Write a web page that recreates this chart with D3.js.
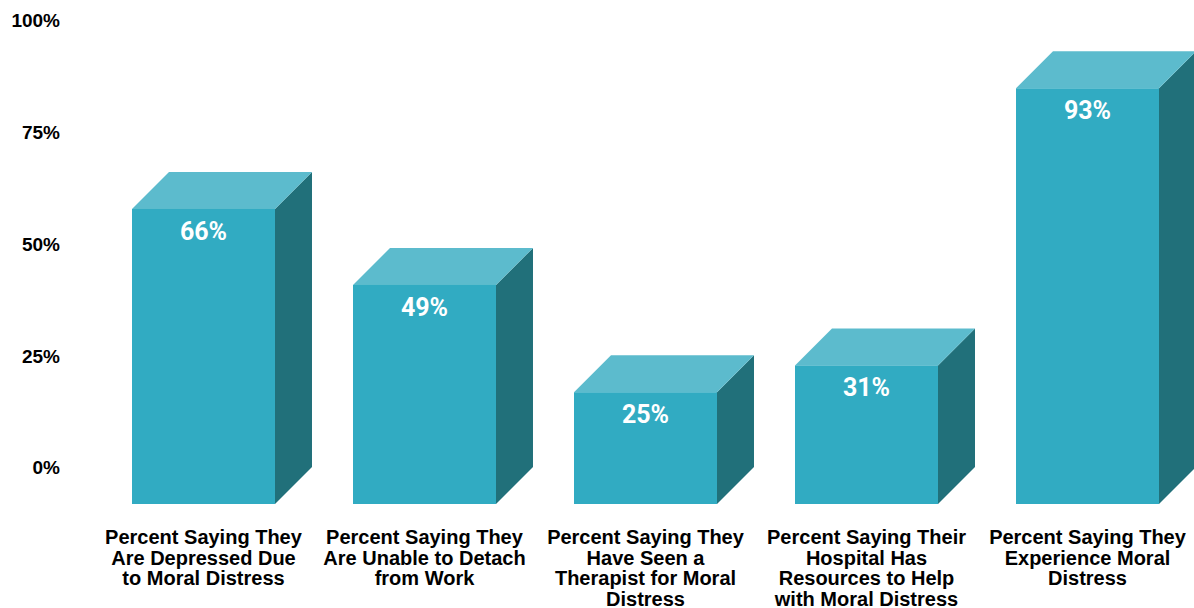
<!DOCTYPE html>
<html>
<head>
<meta charset="utf-8">
<script src="https://cdn.jsdelivr.net/npm/d3@7"></script>
<style>
  body { margin: 0; background: #fff; }
  svg { display: block; }
</style>
</head>
<body>
<div id="chart"></div>
<script>
// data
var categories = [
    "Percent Saying They|Are Depressed Due|to Moral Distress",
    "Percent Saying They|Are Unable to Detach|from Work",
    "Percent Saying They|Have Seen a|Therapist for Moral|Distress",
    "Percent Saying Their|Hospital Has|Resources to Help|with Moral Distress",
    "Percent Saying They|Experience Moral|Distress"
];
var values = [66, 49, 25, 31, 93];
var yTicks = [0, 25, 50, 75, 100];

var width = 1194, height = 608;
var depth = 37; // 3d offset

var svg = d3.select("#chart").append("svg")
    .attr("width", width)
    .attr("height", height);

// Scales (y measures the back plane of the boxes)
var y = d3.scaleLinear().domain([0, 100]).range([467, 20]);
var x = d3.scaleBand().domain(categories).range([132, 1159])
    .paddingInner(0.353).paddingOuter(0);

// Y axis
var yAxis = d3.axisLeft(y).tickValues(yTicks).tickSize(0).tickPadding(0)
    .tickFormat(function (d) { return d + "%"; });
var gy = svg.append("g").attr("transform", "translate(60,0)").call(yAxis);
gy.select(".domain").remove();
gy.selectAll("text")
    .attr("fill", "#000")
    .attr("dy", "0.36em")
    .style("font-family", "'Liberation Sans', Arial, sans-serif")
    .style("font-weight", "bold")
    .style("font-size", "19px");

// Bars
var bars = svg.selectAll("g.bar").data(categories).enter().append("g").attr("class", "bar");

bars.each(function (c, i) {
    var g = d3.select(this);
    var x0 = x(c), x1 = x(c) + x.bandwidth();
    var top = y(values[i]) + depth;
    var bottom = y(0) + depth;

    // side
    g.append("path")
        .attr("d", "M" + x1 + "," + top + "L" + (x1 + depth) + "," + (top - depth) +
            "L" + (x1 + depth) + "," + (bottom - depth) + "L" + x1 + "," + bottom + "Z")
        .attr("fill", "#21707A");
    // top
    g.append("path")
        .attr("d", "M" + x0 + "," + top + "L" + (x0 + depth) + "," + (top - depth) +
            "L" + (x1 + depth) + "," + (top - depth) + "L" + x1 + "," + top + "Z")
        .attr("fill", "#5CBBCD");
    // front
    g.append("rect")
        .attr("x", x0).attr("y", top)
        .attr("width", x.bandwidth()).attr("height", bottom - top)
        .attr("fill", "#31ABC2");
    // value label
    g.append("text")
        .attr("x", x0 + x.bandwidth() / 2)
        .attr("y", top + 31)
        .attr("text-anchor", "middle")
        .attr("fill", "#fff")
        .style("font-family", "Roboto, sans-serif")
        .style("font-weight", "bold")
        .style("font-size", "25px")
        .text(values[i] + "%");
    // category label
    var t = g.append("text")
        .attr("text-anchor", "middle")
        .attr("fill", "#000")
        .style("font-family", "'Liberation Sans', Arial, sans-serif")
        .style("font-weight", "bold")
        .style("font-size", "20px");
    c.split("|").forEach(function (line, j) {
        t.append("tspan")
            .attr("x", x0 + x.bandwidth() / 2)
            .attr("y", 544 + j * 20.5)
            .text(line);
    });
});
</script>
</body>
</html>
